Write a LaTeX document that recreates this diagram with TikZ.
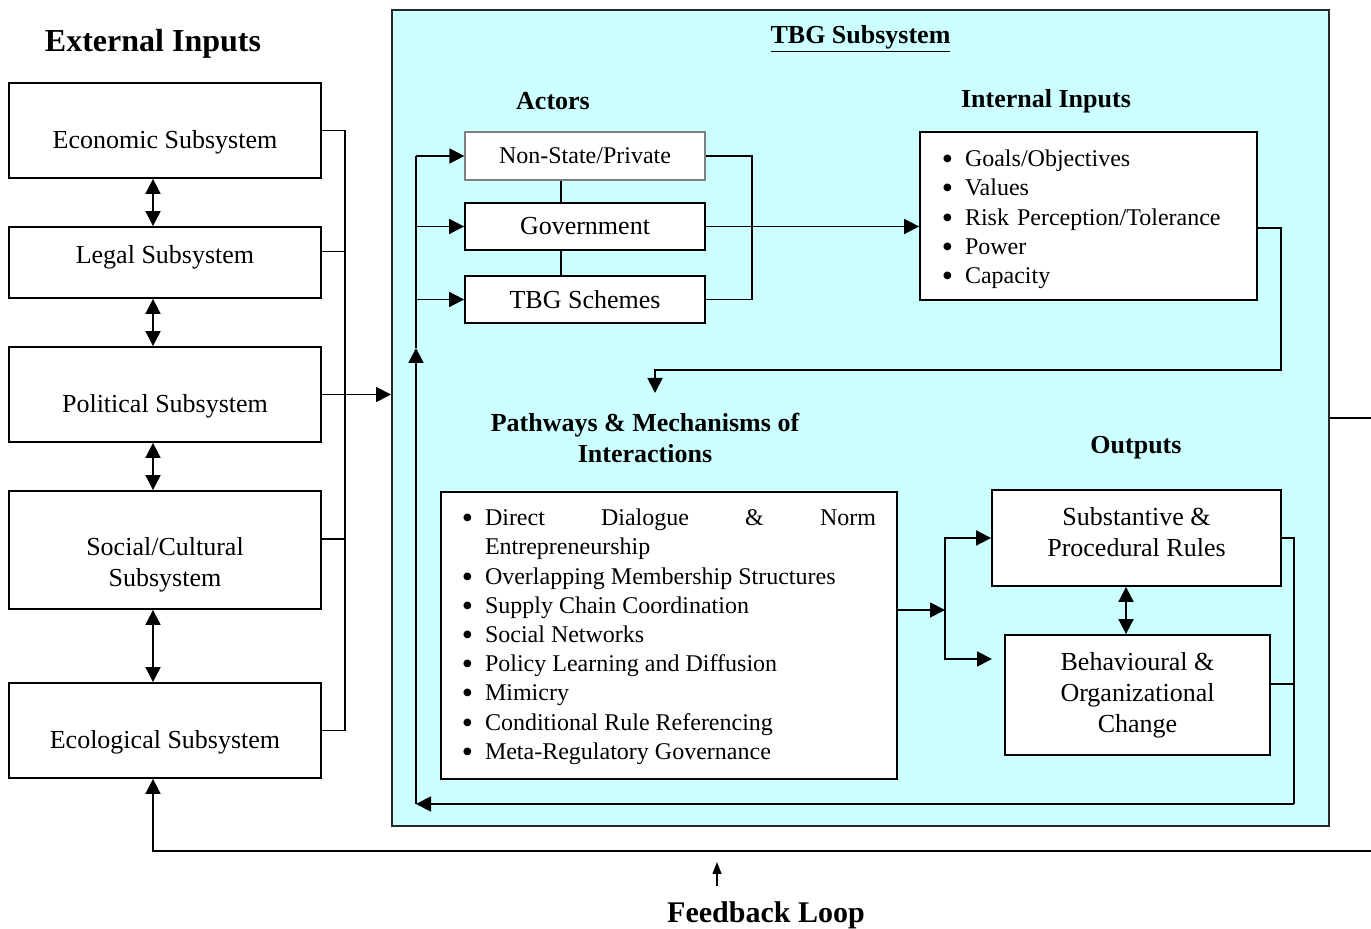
\documentclass[tikz,border=0pt]{standalone}
\usepackage{fontspec}
\setmainfont{Liberation Serif}
\usepackage{enumitem}
\usetikzlibrary{arrows.meta,calc}
\definecolor{tbgcyan}{HTML}{CCFFFF}
\definecolor{edgegrey}{HTML}{808080}
\newcommand\bodyfont{\fontsize{13}{15.5}\selectfont}
\newcommand\itemfont{\fontsize{12}{14.6}\selectfont}
\newcommand\headfont{\fontsize{13}{15.5}\selectfont\bfseries}
\newcommand\bigbullet{\raisebox{-1.5pt}{\fontsize{16}{16}\selectfont\textbullet}}

\begin{document}
\begin{tikzpicture}[x=0.5pt,y=-0.5pt,
  box/.style={rectangle,draw,line width=0.9pt,fill=white,align=center,inner sep=0pt,font=\bodyfont},
  boxtext/.style={align=center,font=\bodyfont},
  listbox/.style={rectangle,draw,line width=0.9pt,fill=white,inner sep=0pt},
  listtext/.style={inner sep=0pt,font=\itemfont},
  head/.style={align=center,font=\headfont},
  wire/.style={line width=0.9pt},
  arr/.style={wire,-{Triangle[length=7.5pt,width=7.5pt]}},
  dbl/.style={wire,{Triangle[length=7.5pt,width=7.5pt]}-{Triangle[length=7.5pt,width=7.5pt]}}]
\useasboundingbox (0,0) rectangle (1371,929);
\clip (0,0) rectangle (1371,929);

% external inputs
\node[head,font=\fontsize{16}{19}\selectfont\bfseries] (ext) at (153,44) {External Inputs};
\node[box,minimum width=156pt,minimum height=47.5pt,
  label={[boxtext,yshift=-6pt]center:Economic Subsystem}] (eco) at (165,130.5) {};
\node[box,minimum width=156pt,minimum height=35.5pt,
  label={[boxtext,yshift=2.5pt]center:Legal Subsystem}] (legal) at (165,262.5) {};
\node[box,minimum width=156pt,minimum height=47.5pt,
  label={[boxtext,yshift=-6pt]center:Political Subsystem}] (pol) at (165,394.5) {};
\node[box,minimum width=156pt,minimum height=59pt,
  label={[boxtext,yshift=-7.5pt]center:Social/Cultural\\Subsystem}] (soc) at (165,550) {};
\node[box,minimum width=156pt,minimum height=47.5pt,
  label={[boxtext,yshift=-6pt]center:Ecological Subsystem}] (ecol) at (165,730.5) {};

\coordinate (ax) at (153,0);
\coordinate (bus) at (345,0);
\draw[dbl] (eco.south -| ax) -- (legal.north -| ax);
\draw[dbl] (legal.south -| ax) -- (pol.north -| ax);
\draw[dbl] (pol.south -| ax) -- (soc.north -| ax);
\draw[dbl] (soc.south -| ax) -- (ecol.north -| ax);

% TBG subsystem
\node[rectangle,draw=black!85,line width=1pt,fill=tbgcyan,minimum width=468.5pt,minimum height=408pt,inner sep=0pt] (tbg) at (860.5,418) {};
\node[head] (tbgt) at (860.5,39) {\underline{TBG Subsystem}};

% bus into the subsystem
\draw[wire] (eco.east) -- (eco.east -| bus) -- (ecol.east -| bus) -- (ecol.east);
\draw[wire] ($(legal.east)+(0,-11)$) -- ($(legal.east -| bus)+(0,-11)$);
\draw[wire] ($(soc.east)+(0,-11)$) -- ($(soc.east -| bus)+(0,-11)$);
\draw[arr] (pol.east) -- (pol.east -| tbg.west);

% actors
\node[head] (act) at (553,101) {Actors};
\node[box,draw=edgegrey,line width=0.6pt,font=\itemfont,minimum width=120pt,minimum height=24pt] (nsp) at (585,156) {Non-State/Private};
\node[box,minimum width=120pt,minimum height=23.5pt] (gov) at (585,226.5) {Government};
\node[box,minimum width=120pt,minimum height=23.5pt] (sch) at (585,299.5) {TBG Schemes};
\coordinate (lnk) at (561,0);
\coordinate (brk) at (752,0);
\draw[wire] (nsp.south -| lnk) -- (gov.north -| lnk);
\draw[wire] (gov.south -| lnk) -- (sch.north -| lnk);
\draw[wire] (nsp.east) -| (brk |- sch) -- (sch.east);

% internal inputs
\node[head] (inh) at (1046,101) {Internal Inputs};
\node[listbox,minimum width=168.5pt,minimum height=84pt,
  label={[listtext,text width=156.5pt,align=left,yshift=1.5pt]center:{%
\begin{itemize}[nosep,leftmargin=16.5pt,labelsep=6pt,label=\bigbullet]
\item Goals/Objectives
\item Values
\item Risk Perception/Tolerance
\item Power
\item Capacity
\end{itemize}}}] (inn) at (1088.5,216) {};
\draw[arr] (gov.east) -- (gov.east -| inn.west);

% pathways
\node[head] (pwh) at (645,438) {Pathways \& Mechanisms of\\Interactions};
\coordinate (innr) at (1281,370);
\coordinate (pwin) at (655,393);
\draw[arr] ($(inn.east)+(0,12)$) -| (innr) -| (pwin);
\node[listbox,minimum width=228pt,minimum height=143.5pt,
  label={[listtext,text width=216pt,align=justify,yshift=2.5pt]center:{%
\begin{itemize}[nosep,leftmargin=16pt,labelsep=6pt,rightmargin=4.5pt,label=\bigbullet]
\item Direct Dialogue \& Norm \mbox{Entrepreneurship}
\item Overlapping Membership Structures
\item Supply Chain Coordination
\item Social Networks
\item Policy Learning and Diffusion
\item Mimicry
\item Conditional Rule Referencing
\item Meta-Regulatory Governance
\end{itemize}}}] (pth) at (669,635.5) {};

% outputs
\node[head] (outh) at (1136,448) {Outputs};
\node[box,minimum width=144.5pt,minimum height=48pt,
  label={[boxtext,yshift=3pt]center:Substantive \&\\Procedural Rules}] (sub) at (1136.5,538) {};
\node[box,minimum width=132.5pt,minimum height=60pt] (beh) at (1137.5,695) {Behavioural \&\\Organizational\\Change};
\coordinate (sb) at (1126,0);
\draw[dbl] (sub.south -| sb) -- (beh.north -| sb);
\coordinate (spl) at (945,610);
\coordinate (behin) at (992,659);
\draw[arr] (pth.east |- spl) -- (spl);
\draw[arr] (spl) |- (sub.west);
\draw[arr] (spl) |- (behin);

% return loop inside
\coordinate (outx) at (1294,804);
\coordinate (fbx) at (416,804);
\coordinate (fbup) at (416,348);
\draw[wire] (sub.east) -| (outx);
\draw[wire] ($(beh.east)+(0,-11)$) -- ($(beh.east -| outx)+(0,-11)$);
\draw[arr] (outx) -- (fbx);
\draw[arr] (fbx) -- (fbup);
\draw[wire] (fbup) -- (fbup |- nsp);
\foreach \a in {nsp,gov,sch}
  \draw[arr] (fbx |- \a) -- (\a.west);

% feedback loop
\coordinate (fb) at (1400,851);
\draw[arr] (tbg.east) -- (tbg.east -| fb) -- (fb) -- (fb -| ax) -- (ecol.south -| ax);
\coordinate (fa) at (717,886);
\draw[line width=0.6pt,-{Triangle[length=6pt,width=4.5pt]}] (fa) -- ++(0,-24);
\node[head,font=\fontsize{15}{18}\selectfont\bfseries] (fbl) at (766,915) {Feedback Loop};
\end{tikzpicture}
\end{document}
